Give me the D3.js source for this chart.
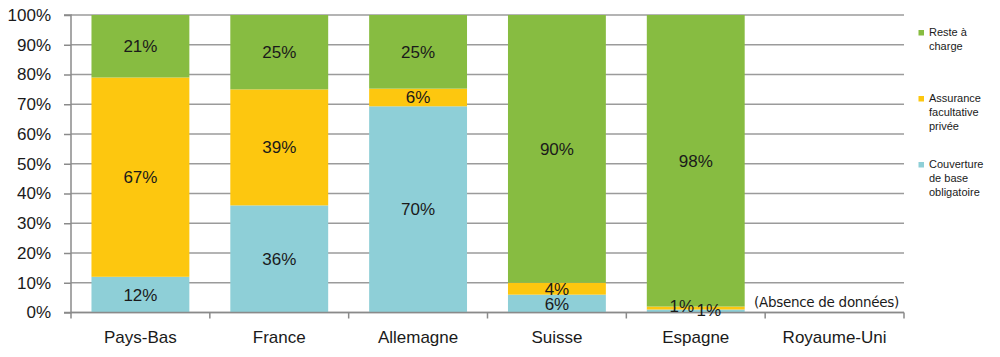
<!DOCTYPE html>
<html><head><meta charset="utf-8">
<script src="https://cdn.jsdelivr.net/npm/d3@7"></script>
<style>
body{margin:0;background:#fff;}
svg{display:block;font-family:"Liberation Sans",Arial,sans-serif;}
</style></head>
<body><svg id="c" width="1000" height="357"></svg>
<script>
const categories = ["Pays-Bas","France","Allemagne","Suisse","Espagne","Royaume-Uni"];
const seriesKeys = ["base","assurance","reste"];
const seriesNames = ["Couverture de base obligatoire","Assurance facultative privée","Reste à charge"];
const baseValues = [12,36,70,6,1,null];
const assuranceValues = [67,39,6,4,1,null];
const resteValues = [21,25,25,90,98,null];
const yTicks = [0,10,20,30,40,50,60,70,80,90,100];
const noDataLabel = "(Absence de données)";
const legendLines = [["Reste à","charge"],["Assurance","facultative","privée"],["Couverture","de base","obligatoire"]];

const colors = {base:"#8ecfd7", assurance:"#fdc70f", reste:"#87bc41"};
const svg = d3.select("#c");
const m = {l:71, r:904, t:15, b:312.5};

const x = d3.scaleBand().domain(categories).range([m.l, m.r]).paddingInner(0.295).paddingOuter(0.1475);
const y = d3.scaleLinear().domain([0,1]).range([m.b, m.t]);

const rows = categories.map((c,i)=>({cat:c, base:baseValues[i]||0, assurance:assuranceValues[i]||0, reste:resteValues[i]||0, has: baseValues[i]!=null}));
const stack = d3.stack().keys(seriesKeys).offset(d3.stackOffsetExpand);
const series = stack(rows.filter(r=>r.has));

// gridlines
svg.append("g").selectAll("line").data(yTicks).join("line")
  .attr("x1", m.l).attr("x2", m.r)
  .attr("y1", d=>y(d/100)).attr("y2", d=>y(d/100))
  .attr("stroke","#9b9b9b").attr("stroke-width",1.5);

// bars
const g = svg.append("g");
series.forEach(s=>{
  g.append("g").attr("fill", colors[s.key]).selectAll("rect").data(s).join("rect")
    .attr("x", d=>x(d.data.cat)).attr("width", x.bandwidth())
    .attr("y", d=>y(d[1])).attr("height", d=>y(d[0])-y(d[1]));
});

// y axis
const yAxis = d3.axisLeft(y).tickValues(yTicks.map(v=>v/100)).tickFormat(d=>Math.round(d*100)+"%").tickSize(7).tickPadding(13);
const ya = svg.append("g").attr("transform",`translate(${m.l},0)`).call(yAxis);
ya.select(".domain").attr("stroke","#8a8a8a").attr("stroke-width",1.5).attr("d",`M-7,${m.t}H0V${m.b}H-7`);
ya.selectAll(".tick line").attr("stroke","#8a8a8a").attr("stroke-width",1.5);
ya.selectAll(".tick text").attr("font-size",17).attr("fill","#1a1a1a").attr("font-family","Liberation Sans, Arial, sans-serif");

// x axis baseline + ticks at band boundaries
const step = x.step();
const bounds = categories.map((c,i)=>m.l + i*step).concat([m.r]);
svg.append("line").attr("x1",m.l).attr("x2",m.r).attr("y1",m.b).attr("y2",m.b).attr("stroke","#8a8a8a").attr("stroke-width",1.5);
svg.append("g").selectAll("line").data(bounds).join("line")
  .attr("x1",d=>d).attr("x2",d=>d).attr("y1",m.b).attr("y2",m.b+6).attr("stroke","#8a8a8a").attr("stroke-width",1.5);
svg.append("g").selectAll("text").data(categories).join("text")
  .attr("x", d=>x(d)+x.bandwidth()/2).attr("y", 343)
  .attr("text-anchor","middle").attr("font-size",17).attr("fill","#1a1a1a").text(d=>d);

// value labels
const lab = svg.append("g").attr("font-size",17).attr("fill","#1a1a1a").attr("text-anchor","middle");
series.forEach((s,si)=>{
  const vals = s.key==="base"?baseValues:s.key==="assurance"?assuranceValues:resteValues;
  s.forEach(d=>{
    const ci = categories.indexOf(d.data.cat);
    const v = vals[ci];
    const frac = d[1]-d[0];
    let cx = x(d.data.cat)+x.bandwidth()/2;
    let cy = (y(d[0])+y(d[1]))/2;
    if (frac < 0.03) { // tiny segments: nudge sideways to avoid overlap
      cx += (s.key==="assurance") ? -14 : 13;
      cy += (s.key==="assurance") ? -2 : -1;
    }
    lab.append("text").attr("x",cx).attr("y",cy).attr("dy","0.35em").text(v+"%");
  });
});

// no data label
const uk = categories[categories.length-1];
svg.append("text").attr("x", x(uk)+x.bandwidth()/2-8).attr("y", 302).attr("dy","0.35em")
  .attr("text-anchor","middle").attr("font-size",13.5).attr("fill","#1a1a1a")
  .attr("font-family","DejaVu Sans, sans-serif").attr("letter-spacing","-0.3").text(noDataLabel);

// legend
const legendKeys = ["reste","assurance","base"];
const legendY = [36,102,168];
const lg = svg.append("g");
legendKeys.forEach((k,i)=>{
  lg.append("rect").attr("x",918.5).attr("y",legendY[i]-6).attr("width",5.5).attr("height",5.5).attr("fill",colors[k]);
  legendLines[i].forEach((t,j)=>{
    lg.append("text").attr("x",929).attr("y",legendY[i]+j*14).attr("font-size",11).attr("fill","#1a1a1a").text(t);
  });
});
</script></body></html>
